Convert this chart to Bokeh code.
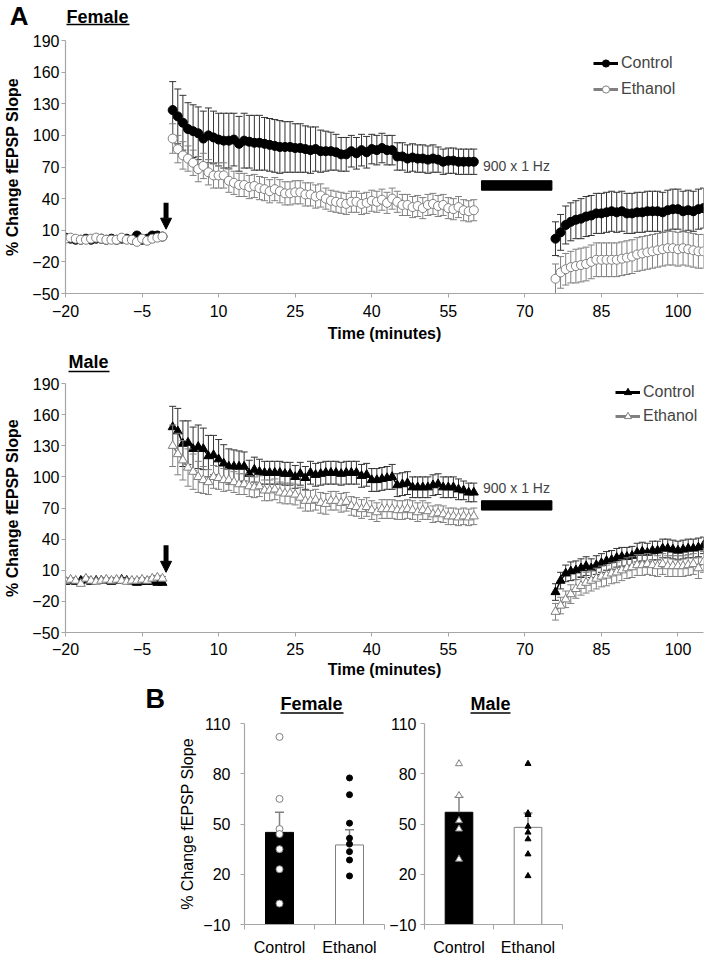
import numpy as np
from bokeh.plotting import figure
from bokeh.models import (FixedTicker, Label, Arrow, NormalHead, Legend, LegendItem,
                          Range1d, ColumnDataSource)
from bokeh.layouts import column, row
from bokeh.embed import file_html
from bokeh.resources import INLINE

FONT = "Liberation Sans"
AXIS_COLOR = "#a6a6a6"
GRAY = "#808080"
CTRL_ERR = "#333333"

# ---------------- data ----------------
time_baseline = list(range(-20, 0))
time_post = list(range(1, 61))
time_post_lfs = list(range(76, 106))

x_ticks = [-20, -5, 10, 25, 40, 55, 70, 85, 100]
y_ticks = [-50, -20, 10, 40, 70, 100, 130, 160, 190]
bar_y_ticks = [-10, 20, 50, 80, 110]

# Female, Control
f_ctrl_base = [3, 2, 1, 1, 2, 1, 2, 2, 1, 2, 1, 2, 2, 1, 5, 1, 2, 5, 5, 4]
f_ctrl_base_sem = [2, 2, 2, 2, 2, 2, 2, 2, 2, 2, 2, 2, 2, 2, 2, 2, 2, 2, 2, 2]
f_ctrl_post = [124, 118, 112, 106, 104, 102, 97, 100, 98, 96,
               95, 95, 96, 92, 95, 94, 93, 93, 92, 91,
               90, 89, 89, 89, 88, 88, 87, 86, 87, 85,
               85, 85, 84, 82, 82, 85, 83, 86, 84, 87,
               86, 88, 86, 86, 80, 80, 78, 79, 78, 78,
               77, 78, 77, 75, 76, 76, 75, 75, 75, 75]
f_ctrl_post_sem = [27, 26, 26, 25, 25, 25, 26, 26, 25, 25,
                   26, 26, 25, 26, 26, 25, 26, 26, 25, 25,
                   25, 25, 24, 24, 23, 23, 22, 22, 21, 20,
                   19, 18, 17, 16, 16, 15, 15, 15, 15, 14,
                   14, 14, 14, 14, 13, 13, 13, 13, 13, 13,
                   13, 13, 12, 12, 12, 12, 12, 12, 12, 12]
f_ctrl_lfs = [2, 8, 15, 18, 20, 21, 23, 24, 26, 26,
              27, 28, 27, 28, 26, 26, 27, 27, 28, 28,
              28, 27, 29, 30, 30, 28, 29, 28, 30, 31]
f_ctrl_lfs_sem = [16, 17, 18, 18, 18, 19, 19, 19, 19, 19,
                  19, 19, 19, 19, 19, 19, 19, 19, 19, 19,
                  19, 19, 19, 19, 19, 19, 19, 19, 19, 19]

# Female, Ethanol
f_eth_base = [2, 3, 2, 1, 1, 2, 3, 2, 1, 1, 1, 3, 1, 1, -1, 2, 0, 2, 3, 4]
f_eth_base_sem = [2, 2, 2, 2, 2, 2, 2, 2, 2, 2, 2, 2, 2, 2, 2, 2, 2, 2, 2, 2]
f_eth_post = [97, 87, 81, 78, 74, 68, 71, 65, 62, 62,
              62, 57, 55, 53, 53, 51, 52, 50, 49, 47,
              49, 47, 45, 45, 46, 46, 44, 44, 42, 43,
              40, 38, 37, 36, 35, 37, 37, 35, 36, 38,
              37, 39, 36, 40, 37, 34, 34, 32, 33, 31,
              34, 35, 33, 34, 31, 30, 32, 29, 28, 29]
f_eth_post_sem = [14, 13, 13, 12, 12, 12, 12, 12, 12, 12,
                  12, 11, 11, 11, 11, 11, 11, 11, 11, 11,
                  11, 11, 11, 11, 11, 11, 11, 11, 11, 11,
                  10, 10, 10, 10, 10, 10, 10, 10, 10, 10,
                  10, 10, 10, 10, 10, 10, 10, 10, 10, 10,
                  10, 10, 10, 10, 10, 10, 10, 10, 10, 10]
f_eth_lfs = [-36, -30, -27, -25, -24, -23, -22, -20, -18, -18,
             -18, -18, -18, -17, -16, -15, -13, -12, -11, -10,
             -9, -8, -7, -7, -8, -7, -8, -9, -10, -10]
f_eth_lfs_sem = [14, 15, 15, 15, 16, 16, 16, 16, 16, 16,
                 16, 16, 16, 16, 16, 16, 16, 16, 16, 16,
                 16, 16, 16, 16, 16, 16, 16, 16, 16, 16]

# Male, Control
m_ctrl_base = [-1, 0, -1, 0, 1, -1, 0, 0, 0, -1, 0, 1, 0, -1, -2, -1, -1, -1, -2, -2]
m_ctrl_base_sem = [2, 2, 2, 2, 2, 2, 2, 2, 2, 2, 2, 2, 2, 2, 2, 2, 2, 2, 2, 2]
m_ctrl_post = [148, 144, 132, 133, 127, 129, 127, 120, 121, 117,
               113, 110, 110, 110, 110, 103, 107, 105, 104, 104,
               104, 104, 103, 103, 100, 103, 99, 104, 102, 103,
               104, 104, 104, 103, 104, 104, 104, 101, 102, 97,
               97, 98, 99, 100, 92, 93, 94, 90, 90, 90,
               90, 92, 93, 90, 90, 90, 88, 87, 85, 85]
m_ctrl_post_sem = [20, 22, 22, 21, 21, 21, 20, 20, 19, 19,
                   18, 17, 16, 15, 14, 13, 12, 12, 11, 11,
                   11, 11, 11, 11, 11, 11, 11, 11, 11, 11,
                   11, 11, 11, 11, 11, 11, 11, 11, 11, 11,
                   11, 11, 11, 12, 11, 11, 11, 10, 10, 10,
                   10, 10, 10, 10, 10, 10, 10, 9, 9, 9]
m_ctrl_lfs = [-11, 0, 7, 9, 10, 12, 14, 12, 15, 17,
              19, 20, 22, 23, 23, 24, 27, 28, 27, 29,
              29, 31, 31, 30, 29, 30, 31, 31, 32, 34]
m_ctrl_lfs_sem = [8, 8, 8, 9, 9, 9, 9, 9, 9, 9,
                  9, 9, 9, 9, 9, 9, 9, 9, 9, 9,
                  9, 9, 9, 9, 9, 9, 9, 9, 9, 8]

# Male, Ethanol
m_eth_base = [0, 1, 0, -3, 2, 0, -1, 0, 1, 0, 1, 0, -1, 0, 0, 1, 0, 2, 3, 2]
m_eth_base_sem = [2, 2, 2, 2, 2, 2, 2, 2, 2, 2, 2, 2, 2, 2, 2, 2, 2, 2, 2, 2]
m_eth_post = [130, 122, 116, 109, 105, 100, 97, 95, 100, 99,
              97, 97, 95, 93, 93, 91, 90, 91, 87, 87,
              88, 85, 84, 84, 83, 80, 77, 77, 78, 75,
              74, 77, 77, 75, 76, 72, 71, 69, 71, 68,
              66, 69, 69, 69, 68, 68, 69, 68, 66, 68,
              67, 64, 65, 64, 62, 62, 61, 62, 61, 62]
m_eth_post_sem = [20, 20, 19, 18, 17, 15, 13, 12, 11, 11,
                  11, 10, 10, 10, 10, 10, 10, 10, 10, 10,
                  10, 10, 10, 10, 10, 10, 10, 10, 10, 10,
                  10, 9, 9, 9, 9, 9, 9, 9, 9, 9,
                  9, 9, 9, 9, 9, 9, 9, 9, 9, 9,
                  8, 8, 8, 8, 8, 8, 8, 8, 8, 8]
m_eth_lfs = [-30, -24, -18, -13, -8, -5, -2, 0, 2, 4,
             5, 7, 8, 10, 12, 13, 15, 15, 16, 15,
             14, 16, 14, 14, 14, 14, 15, 16, 12, 18]
m_eth_lfs_sem = [8, 8, 8, 9, 9, 9, 10, 10, 10, 10,
                 10, 10, 10, 10, 10, 10, 10, 10, 10, 10,
                 10, 10, 10, 10, 10, 10, 10, 10, 10, 10]

# stimulation annotations
drug_arrow_time = -0.3
female_arrow_y = [36, 11]
male_arrow_y = [34, 8]
stim_label = "900 x 1 Hz"
stim_start, stim_end = 61.5, 75.3
female_stim_y = [48, 57]
male_stim_y = [68, 77]
female_stim_text_y = 71
male_stim_text_y = 89

# Panel B
groups = ["Control", "Ethanol"]
b_female_mean = [45, 37.5]
b_female_sem = [12, 9]
b_female_ctrl_pts = [102, 65, 47, 44, 35, 23, 2.5]
b_female_eth_pts = [77.5, 67.5, 50.5, 41.5, 38, 33.5, 28.5, 19]
b_male_mean = [57, 48]
b_male_sem = [9, 8.5]
b_male_ctrl_pts = [86, 67, 52, 47, 29]
b_male_eth_pts = [86, 56.5, 55.5, 48.5, 45, 41, 32, 19]

PAGE_W = 709
FRAME_L, FRAME_R = 65, 703   # horizontal frame extent (page px) shared by the stacked figures


# ---------------- helpers ----------------
def style_axes(p):
    p.xgrid.visible = False
    p.ygrid.visible = False
    p.outline_line_color = None
    for ax in p.axis:
        ax.axis_line_color = AXIS_COLOR
        ax.axis_line_width = 1.2
        ax.major_tick_line_color = AXIS_COLOR
        ax.minor_tick_line_color = None
        ax.major_tick_in = 0
        ax.major_tick_out = 4
        ax.major_label_text_font = FONT
        ax.major_label_text_font_size = "16px"
        ax.major_label_text_color = "black"
        ax.axis_label_text_font = FONT
        ax.axis_label_text_font_size = "16px"
        ax.axis_label_text_font_style = "bold"
        ax.axis_label_text_color = "black"


def header(height, texts, rules, letter=None):
    """Strip with panel letter and underlined titles; x in page px, y measured from its top
    (text y = vertical centre of the text)."""
    p = figure(width=PAGE_W, height=height, x_range=Range1d(FRAME_L, FRAME_R),
               y_range=Range1d(0, height), x_axis_type=None,
               min_border_left=FRAME_L, min_border_right=PAGE_W - FRAME_R,
               min_border_top=0, min_border_bottom=0,
               output_backend="svg", toolbar_location=None)
    p.title = None
    p.outline_line_color = None
    p.ygrid.visible = False
    ax = p.yaxis[0]
    if letter:
        text, right_x, center_y, size = letter
        tick = height - center_y
        ax.ticker = FixedTicker(ticks=[tick])
        ax.major_label_overrides = {tick: text}
        ax.axis_line_color = None
        ax.major_tick_line_color = None
        ax.minor_tick_line_color = None
        ax.major_tick_in = 0
        ax.major_tick_out = 0
        ax.major_label_standoff = FRAME_L - right_x
        ax.major_label_text_font = FONT
        ax.major_label_text_font_size = size
        ax.major_label_text_font_style = "bold"
        ax.major_label_text_color = "black"
    else:
        ax.visible = False
    for (x, y, text, size) in texts:
        p.add_layout(Label(x=x, y=height - y, text=text, text_font=FONT, text_font_size=size,
                           text_font_style="bold", text_baseline="middle",
                           text_align="left", text_color="black"))
    for (x0, x1, y) in rules:
        p.segment(x0=[x0], y0=[height - y], x1=[x1], y1=[height - y],
                  line_color="black", line_width=1.6)
    return p


def with_gaps(t_parts, v_parts):
    xs, ys = [], []
    for i, (tp, vp) in enumerate(zip(t_parts, v_parts)):
        if i:
            xs.append(np.nan)
            ys.append(np.nan)
        xs += list(tp)
        ys += list(vp)
    return xs, ys


def draw_series(p, parts, sem_parts, marker, fill, line_col, err_col, size):
    t_parts = [time_baseline, time_post, time_post_lfs]
    t = [v for tp in t_parts for v in tp]
    y = [v for vp in parts for v in vp]
    s = [v for sp in sem_parts for v in sp]
    src = ColumnDataSource(dict(t=t, y=y,
                                lo=[a - b for a, b in zip(y, s)],
                                hi=[a + b for a, b in zip(y, s)]))
    p.segment(x0="t", y0="lo", x1="t", y1="hi", source=src, line_color=err_col, line_width=1)
    p.scatter(x="t", y="hi", source=src, marker="dash", size=7, line_color=err_col, line_width=1)
    p.scatter(x="t", y="lo", source=src, marker="dash", size=7, line_color=err_col, line_width=1)
    lx, ly = with_gaps(t_parts, parts)
    p.line(lx, ly, line_color=line_col, line_width=1.5)
    p.scatter(x="t", y="y", source=src, marker=marker, size=size, fill_color=fill,
              line_color=line_col, line_width=1)


def ts_panel(height, ft, fb, ctrl, eth, marker, size, arrow_y, stim_y, stim_text_y,
             legend_vx, legend_vy, legend_spacing, xlab_standoff=7, xtitle_standoff=5):
    p = figure(width=PAGE_W, height=height, x_range=Range1d(-20, 105), y_range=Range1d(-50, 190),
               min_border_left=FRAME_L, min_border_right=PAGE_W - FRAME_R,
               min_border_top=ft, min_border_bottom=fb,
               output_backend="svg", toolbar_location=None, background_fill_color="white")
    style_axes(p)
    p.xaxis.ticker = FixedTicker(ticks=x_ticks)
    p.yaxis.ticker = FixedTicker(ticks=y_ticks)
    p.xaxis.axis_label = "Time (minutes)"
    p.yaxis.axis_label = "% Change fEPSP Slope"
    p.xaxis.major_label_standoff = xlab_standoff
    p.xaxis.axis_label_standoff = xtitle_standoff
    p.yaxis.major_label_standoff = 2
    p.yaxis.axis_label_standoff = 8

    draw_series(p, ctrl[0], ctrl[1], marker, "black", "black", CTRL_ERR, size)
    draw_series(p, eth[0], eth[1], marker, "white", GRAY, GRAY, size)

    # stimulation bar and label
    p.quad(left=[stim_start], right=[stim_end], bottom=[stim_y[0]], top=[stim_y[1]],
           fill_color="black", line_color="black")
    p.add_layout(Label(x=stim_start + 0.3, y=stim_text_y, text=stim_label, text_font=FONT,
                       text_font_size="14px", text_baseline="middle", text_align="left"))
    # drug arrow
    p.add_layout(Arrow(end=NormalHead(size=11, fill_color="black", line_color="black"),
                       x_start=drug_arrow_time, y_start=arrow_y[0],
                       x_end=drug_arrow_time, y_end=arrow_y[1],
                       line_color="black", line_width=5))

    # legend proxies
    lc = p.line([np.nan], [np.nan], line_color="black", line_width=3)
    sc = p.scatter([np.nan], [np.nan], marker=marker, size=8, fill_color="black", line_color="black")
    le = p.line([np.nan], [np.nan], line_color=GRAY, line_width=3)
    se = p.scatter([np.nan], [np.nan], marker=marker, size=8, fill_color="white", line_color=GRAY)
    legend = Legend(items=[LegendItem(label="Control", renderers=[lc, sc]),
                           LegendItem(label="Ethanol", renderers=[le, se])],
                    location=(legend_vx, legend_vy), border_line_color=None,
                    background_fill_alpha=0, padding=0, margin=0, spacing=legend_spacing,
                    glyph_width=25, glyph_height=18, label_height=18, label_standoff=3,
                    label_text_font=FONT, label_text_font_size="16px")
    p.add_layout(legend)
    return p


def bar_panel(width, height, fl, fr, ft, fb, means, sems, ctrl_pts, eth_pts, marker, ylabel,
              label_standoff):
    p = figure(width=width, height=height, x_range=Range1d(0, 2), y_range=Range1d(-10, 110),
               min_border_left=fl, min_border_right=fr, min_border_top=ft, min_border_bottom=fb,
               output_backend="svg", toolbar_location=None, background_fill_color="white")
    style_axes(p)
    cat_x = [0.5, 1.5]
    p.xaxis.ticker = FixedTicker(ticks=cat_x, minor_ticks=[0, 1, 2])
    p.xaxis.major_label_overrides = dict(zip(cat_x, groups))
    p.xaxis.major_tick_out = 0
    p.xaxis.minor_tick_out = 5
    p.xaxis.minor_tick_in = 0
    p.xaxis.minor_tick_line_color = AXIS_COLOR
    p.xaxis.major_label_standoff = 9
    p.yaxis.ticker = FixedTicker(ticks=bar_y_ticks)
    p.yaxis.major_label_standoff = label_standoff
    if ylabel:
        p.yaxis.axis_label = ylabel
        p.yaxis.axis_label_text_font_style = "normal"
        p.yaxis.axis_label_standoff = 4

    src = ColumnDataSource(dict(x=cat_x, top=means,
                                err=[m + s for m, s in zip(means, sems)],
                                fill=["black", "white"], line=["black", GRAY]))
    p.vbar(x="x", width=0.4, bottom=-10, top="top", source=src, fill_color="fill",
           line_color="line", line_width=1)
    p.segment(x0="x", y0="top", x1="x", y1="err", source=src, line_color=GRAY, line_width=1.5)
    p.scatter(x="x", y="err", source=src, marker="dash", size=9, line_color=GRAY, line_width=1.5)

    p.scatter(x=[cat_x[0]] * len(ctrl_pts), y=ctrl_pts, marker=marker, size=7,
              fill_color="white", line_color=GRAY, line_width=1)
    p.scatter(x=[cat_x[1]] * len(eth_pts), y=eth_pts, marker=marker, size=6,
              fill_color="black", line_color="black")
    return p


hA = header(30, [(66, 16, "Female", "18px")], [(66, 129, 24)], letter=("A", 28, 15, "26px"))
fA = ts_panel(318, 10, 55,
              ([f_ctrl_base, f_ctrl_post, f_ctrl_lfs], [f_ctrl_base_sem, f_ctrl_post_sem, f_ctrl_lfs_sem]),
              ([f_eth_base, f_eth_post, f_eth_lfs], [f_eth_base_sem, f_eth_post_sem, f_eth_lfs_sem]),
              "circle", 9, female_arrow_y, female_stim_y, female_stim_text_y,
              legend_vx=528, legend_vy=195, legend_spacing=8)

hM = header(26, [(68, 13.5, "Male", "18px")], [(68, 109, 23)])
fM = ts_panel(309, 9, 51,
              ([m_ctrl_base, m_ctrl_post, m_ctrl_lfs], [m_ctrl_base_sem, m_ctrl_post_sem, m_ctrl_lfs_sem]),
              ([m_eth_base, m_eth_post, m_eth_lfs], [m_eth_base_sem, m_eth_post_sem, m_eth_lfs_sem]),
              "triangle", 9, male_arrow_y, male_stim_y, male_stim_text_y,
              legend_vx=550, legend_vy=207, legend_spacing=6, xlab_standoff=6, xtitle_standoff=3)

hB = header(31, [(145, 15.5, "B", "27px"), (280, 20, "Female", "18px"), (470, 20, "Male", "18px")],
            [(280, 343, 29.5), (470, 510, 29.5)])
fBf = bar_panel(386, 244, 244, 2, 9, 29, b_female_mean, b_female_sem, b_female_ctrl_pts,
                b_female_eth_pts, "circle", "% Change fEPSP Slope", 10)
fBm = bar_panel(323, 244, 35, 147, 9, 29, b_male_mean, b_male_sem, b_male_ctrl_pts,
                b_male_eth_pts, "triangle", None, 4)

layout = column(hA, fA, hM, fM, hB, row(fBf, fBm))
open("out.html", "w").write(file_html(layout, INLINE))
